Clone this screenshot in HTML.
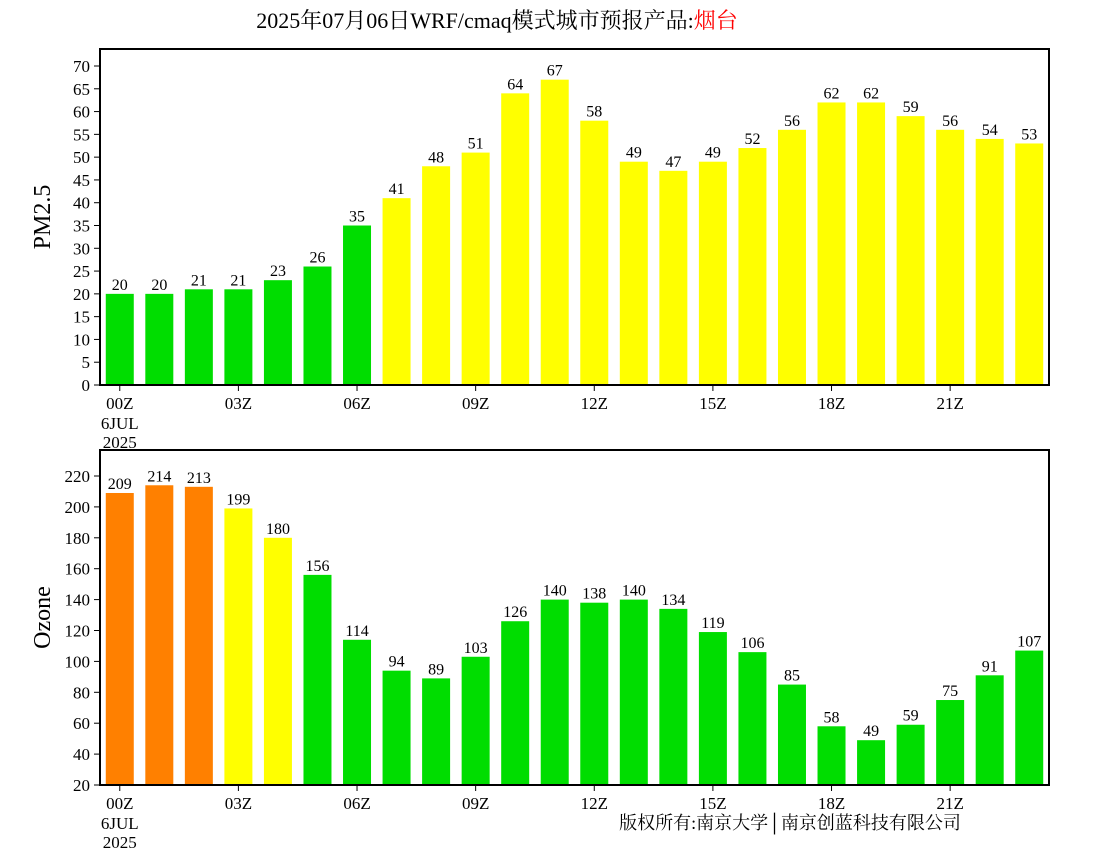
<!DOCTYPE html>
<html><head><meta charset="utf-8"><style>
body{margin:0;background:#fff;width:1100px;height:850px;overflow:hidden}
svg text{font-family:"Liberation Serif","Noto Serif CJK SC","Noto Sans CJK SC",serif;fill:#000}
</style></head><body>
<svg id="c" width="1100" height="850" xmlns="http://www.w3.org/2000/svg">
<text x="497" y="28" font-size="22" text-anchor="middle">2025年07月06日WRF/cmaq模式城市预报产品:<tspan fill="#ff0000" style="fill:#ff0000">烟台</tspan></text>
<text x="790" y="829" font-size="18" text-anchor="middle">版权所有:南京大学│南京创蓝科技有限公司</text>
</svg>
<script>
const hours = ["00Z","","","03Z","","","06Z","","","09Z","","","12Z","","","15Z","","","18Z","","","21Z","",""];
const pm25 = [20,20,21,21,23,26,35,41,48,51,64,67,58,49,47,49,52,56,62,62,59,56,54,53];
const ozone = [209,214,213,199,180,156,114,94,89,103,126,140,138,140,134,119,106,85,58,49,59,75,91,107];
const pmTicks = [0,5,10,15,20,25,30,35,40,45,50,55,60,65,70];
const ozTicks = [20,40,60,80,100,120,140,160,180,200,220];

const svg = document.getElementById('c');
const NS = 'http://www.w3.org/2000/svg';
function mk(tag, attrs){const e=document.createElementNS(NS,tag);for(const k in attrs)e.setAttribute(k,attrs[k]);svg.appendChild(e);return e;}
const X0=100, X1=1049, n=hours.length, step=(X1-X0)/n, bw=28;
function xc(i){return X0+step*(i+0.5);}

function panel(cfg){
  const y=v=>cfg.yb-(v-cfg.vmin)*cfg.scale;
  cfg.vals.forEach((v,i)=>{
    const r=mk('rect',{x:xc(i)-bw/2,y:y(v),width:bw,height:cfg.yb-y(v),fill:cfg.color(v)});
    
    
    const t=mk('text',{x:xc(i),y:y(v)-4,'font-size':16,'text-anchor':'middle'});
    t.textContent=v;
    
    
  });
  const f=mk('rect',{x:X0,y:cfg.yt,width:X1-X0,height:cfg.yb-cfg.yt,fill:'none',stroke:'#000','stroke-width':2});
  
  
  cfg.ticks.forEach(v=>{
    mk('line',{x1:X0-6,x2:X0,y1:y(v),y2:y(v),stroke:'#000','stroke-width':1});
    const t=mk('text',{x:X0-10,y:y(v)+6,'font-size':17,'text-anchor':'end'});
    t.textContent=v;
    
    
  });
  hours.forEach((h,i)=>{
    if(!h)return;
    mk('line',{x1:xc(i),x2:xc(i),y1:cfg.yb,y2:cfg.yb+6,stroke:'#000','stroke-width':1});
    const t=mk('text',{x:xc(i),y:cfg.yb+24,'font-size':17,'text-anchor':'middle'});
    t.textContent=h;
    
    
  });
  ['6JUL','2025'].forEach((s,k)=>{
    const t=mk('text',{x:xc(0),y:cfg.yb+44+k*19,'font-size':17,'text-anchor':'middle'});
    t.textContent=s;
    
    
  });
  const yt=mk('text',{x:50,y:(cfg.yt+cfg.yb)/2,'font-size':24,'text-anchor':'middle',transform:`rotate(-90 50 ${(cfg.yt+cfg.yb)/2})`});
  yt.textContent=cfg.title;
  
  
}
panel({key:'pm25',vals:pm25,ticks:pmTicks,yt:49,yb:385,vmin:0,scale:319/70,title:'PM2.5',
  color:v=>v<=35?'#00dd00':(v<=75?'#ffff00':'#ff8000')});
panel({key:'ozone',vals:ozone,ticks:ozTicks,yt:450,yb:785,vmin:20,scale:309/200,title:'Ozone',
  color:v=>v<=160?'#00dd00':(v<=200?'#ffff00':'#ff8000')});
</script>
</body></html>
